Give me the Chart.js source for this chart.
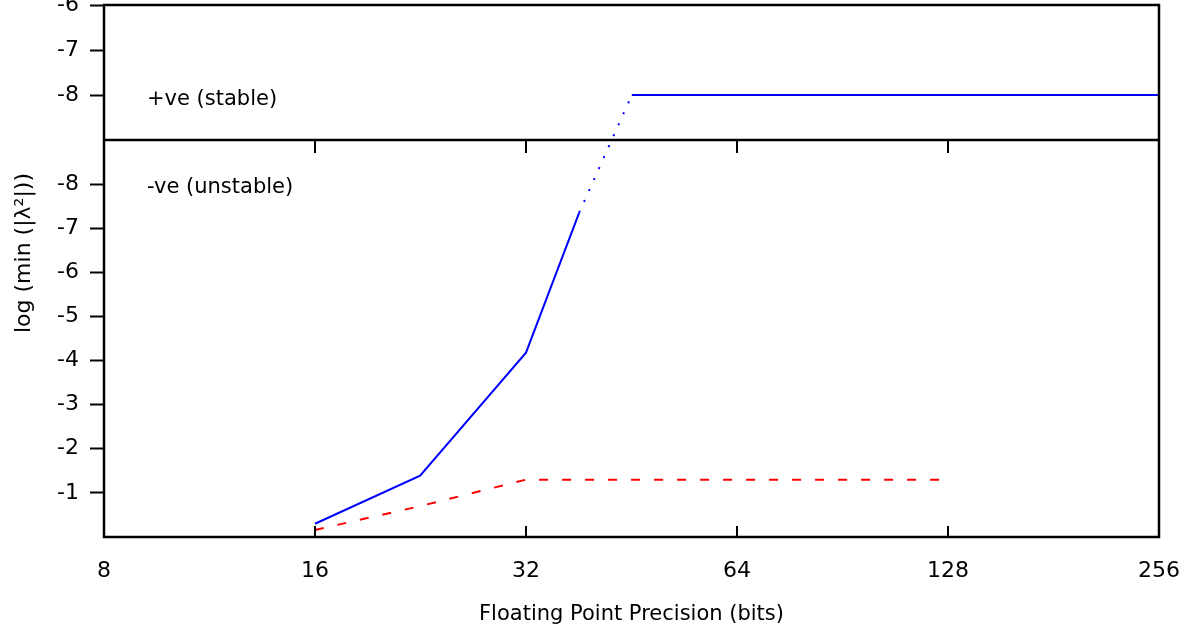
<!DOCTYPE html>
<html>
<head>
<meta charset="utf-8">
<script src="https://cdn.jsdelivr.net/npm/chart.js@4/dist/chart.umd.min.js"></script>
<style>
  html, body { margin: 0; padding: 0; background: #fff; }
  #wrap { width: 1197px; height: 637px; }
</style>
</head>
<body>
<div id="wrap"><canvas id="chart1"></canvas></div>
<script>
// precision in bits (log2 x axis)
const xTicks = [8, 16, 32, 64, 128, 256];
const highTicks = [-8, -7, -6];
const lowTicks = [-8, -7, -6, -5, -4, -3, -2, -1];

// -ve (unstable) panel
const unstableBlueX = [16, 22.6, 32, 38.1];
const unstableBlueY = [-0.3, -1.39, -4.18, -7.35];
const unstableRedX = [16, 22.6, 32, 64, 128];
const unstableRedY = [-0.16, -0.7, -1.3, -1.3, -1.3];

// +ve (stable) panel
const stableBlueX = [45.3, 64, 128, 256];
const stableBlueY = [-8, -8, -8, -8];

const FONT = 'DejaVu Sans';
const toPts = (xs, ys) => xs.map((x, i) => ({ x: x, y: ys[i] }));

// frame, inward x ticks, dotted jump between the panels, labels
const gnuplotBits = {
  id: 'gnuplotBits',
  afterDatasetsDraw(chart) {
    const ctx = chart.ctx;
    const a = chart.chartArea;
    const xs = chart.scales.x;
    const hi = chart.scales.yHigh;
    const lo = chart.scales.yLow;
    ctx.save();

    // dotted connector
    const p0 = chart.getDatasetMeta(0).data[unstableBlueX.length - 1];
    const p1 = chart.getDatasetMeta(2).data[0];
    ctx.strokeStyle = '#0000ff';
    ctx.lineWidth = 2;
    ctx.setLineDash([2, 10]);
    ctx.lineCap = 'butt';
    ctx.beginPath();
    ctx.moveTo(p0.x, p0.y);
    ctx.lineTo(p1.x, p1.y);
    ctx.stroke();
    ctx.setLineDash([]);

    // frame
    ctx.strokeStyle = '#000';
    ctx.lineWidth = 2.5;
    ctx.strokeRect(a.left, a.top, a.right - a.left, a.bottom - a.top);
    ctx.beginPath();
    ctx.moveTo(a.left, hi.bottom);
    ctx.lineTo(a.right, hi.bottom);
    ctx.stroke();

    // inward x ticks
    ctx.lineWidth = 2;
    xTicks.slice(1, -1).forEach(v => {
      const px = Math.round(xs.getPixelForValue(v));
      ctx.beginPath();
      ctx.moveTo(px, a.bottom);
      ctx.lineTo(px, a.bottom - 11);
      ctx.moveTo(px, lo.top);
      ctx.lineTo(px, lo.top + 13);
      ctx.stroke();
    });

    // panel labels
    ctx.fillStyle = '#000';
    ctx.font = '21px "' + FONT + '"';
    ctx.textAlign = 'left';
    ctx.textBaseline = 'middle';
    ctx.fillText('+ve (stable)', a.left + 43, hi.getPixelForValue(-8) + 5);
    ctx.fillText('-ve (unstable)', a.left + 43, lo.getPixelForValue(-8) + 3);

    // y title
    ctx.font = '22px "' + FONT + '"';
    ctx.translate(24, 253);
    ctx.rotate(-Math.PI / 2);
    ctx.textAlign = 'center';
    ctx.fillText('log (min (|\u03bb\u00b2|))', 0, 0);
    ctx.restore();
  }
};

const yCommon = {
  position: 'left',
  stack: 'panels',
  border: { display: false },
  grid: {
    drawOnChartArea: false,
    drawTicks: true,
    tickLength: 14,
    tickWidth: 2,
    tickColor: '#000'
  },
  ticks: {
    color: '#000',
    padding: 11,
    font: { family: FONT, size: 22 },
    callback: v => String(v)
  },
  afterFit: s => { s.width = 104; s.paddingTop = 0; s.paddingBottom = 0; }
};

const ctx1 = document.getElementById('chart1').getContext('2d');
const myChart1 = new Chart(ctx1, {
  type: 'line',
  data: {
    datasets: [{
      label: 'unstable',
      data: toPts(unstableBlueX, unstableBlueY),
      yAxisID: 'yLow',
      borderColor: '#0000ff',
      borderWidth: 2,
      pointRadius: 0,
      tension: 0
    }, {
      label: 'unstable (red)',
      data: toPts(unstableRedX, unstableRedY),
      yAxisID: 'yLow',
      borderColor: '#ff0000',
      borderWidth: 2,
      borderDash: [9, 14],
      pointRadius: 0,
      tension: 0
    }, {
      label: 'stable',
      data: toPts(stableBlueX, stableBlueY),
      yAxisID: 'yHigh',
      borderColor: '#0000ff',
      borderWidth: 2,
      pointRadius: 0,
      tension: 0
    }]
  },
  options: {
    responsive: true,
    maintainAspectRatio: false,
    animation: false,
    layout: { padding: { left: 0, right: 38, top: 5, bottom: 0 } },
    plugins: {
      legend: { display: false },
      tooltip: { enabled: false }
    },
    scales: {
      x: {
        type: 'logarithmic',
        min: 8,
        max: 256,
        border: { display: false },
        grid: { display: false, drawTicks: false },
        ticks: {
          color: '#000',
          padding: 21,
          maxRotation: 0,
          autoSkip: false,
          font: { family: FONT, size: 22 },
          callback: v => String(v)
        },
        title: {
          display: true,
          text: 'Floating Point Precision (bits)',
          color: '#000',
          font: { family: FONT, size: 21 },
          padding: { top: 0, bottom: 10 }
        },
        afterBuildTicks: s => { s.ticks = xTicks.map(v => ({ value: v })); },
        afterFit: s => { s.height = 100; s.paddingLeft = 0; s.paddingRight = 0; }
      },
      yLow: Object.assign({}, yCommon, {
        type: 'linear',
        min: -9,
        max: 0,
        reverse: true,
        stackWeight: 397,
        afterBuildTicks: s => { s.ticks = lowTicks.map(v => ({ value: v })); }
      }),
      yHigh: Object.assign({}, yCommon, {
        type: 'linear',
        min: -9,
        max: -6,
        stackWeight: 135,
        afterBuildTicks: s => { s.ticks = highTicks.map(v => ({ value: v })); }
      })
    }
  },
  plugins: [gnuplotBits]
});
</script>
</body>
</html>
